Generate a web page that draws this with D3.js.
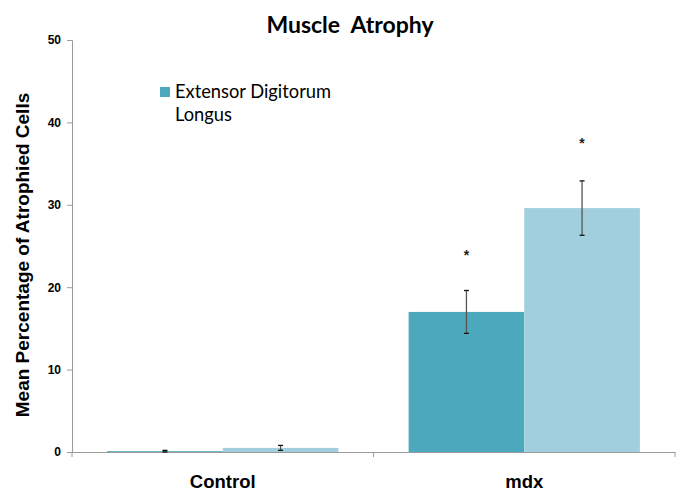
<!DOCTYPE html>
<html><head><meta charset="utf-8">
<script src="https://cdn.jsdelivr.net/npm/d3@7"></script>
<style>body{margin:0;background:#fff}</style>
</head><body>
<svg id="c" width="678" height="491"></svg>
<script>
const categories = ["Control", "mdx"];
const seriesNames = ["Extensor Digitorum Longus", "Series 2"];
const seriesDark = [0.1, 17.0];
const seriesLight = [0.5, 29.6];
const errDark = [0.1, 2.6];
const errLight = [0.3, 3.3];
const starDark = [null, 23.3];
const starLight = [null, 36.9];
const yTicks = [0, 10, 20, 30, 40, 50];
const colors = ["#4BA8BD", "#A2CFDD"];

const svg = d3.select("#c");
const m = {l: 72, r: 3, t: 40, b: 39};
const W = 678, H = 491;
const x = d3.scaleBand().domain(categories).range([m.l, W - m.r]).paddingInner(0.233).paddingOuter(0.1165);
const x0 = d3.scaleBand().domain(categories).range([m.l, W - m.r]);
const y = d3.scaleLinear().domain([0, 50]).range([H - m.b, m.t]);
const xs = d3.scaleBand().domain([0, 1]).range([0, x.bandwidth()]);

const data = categories.map((c, i) => [
  {c, s: 0, v: seriesDark[i], e: errDark[i], star: starDark[i]},
  {c, s: 1, v: seriesLight[i], e: errLight[i], star: starLight[i]}
]).flat();

// bars
svg.selectAll("rect.bar").data(data).join("rect").attr("class", "bar")
  .attr("x", d => x(d.c) + xs(d.s)).attr("width", xs.bandwidth())
  .attr("y", d => y(d.v)).attr("height", d => y(0) - y(d.v))
  .attr("fill", d => colors[d.s]);

// y axis
const ya = svg.append("g").attr("transform", `translate(${m.l},0)`)
  .call(d3.axisLeft(y).tickValues(yTicks).tickSize(5).tickPadding(6));
ya.select(".domain").attr("stroke", "#9a9a9a");
ya.selectAll(".tick line").attr("stroke", "#9a9a9a");
ya.selectAll("text").attr("font-family", "Liberation Sans, Arial, sans-serif")
  .attr("font-weight", "bold").attr("font-size", 12).attr("fill", "#000");

// x axis
const xa = svg.append("g").attr("transform", `translate(0,${y(0)})`)
  .call(d3.axisBottom(x0).tickSize(0).tickFormat(""));
xa.select(".domain").attr("stroke", "#9a9a9a");
xa.selectAll(".tick").remove();
const bounds = [m.l, x0(categories[1]), W - m.r];
xa.selectAll("line.sep").data(bounds).join("line").attr("class", "sep")
  .attr("x1", d => d).attr("x2", d => d).attr("y1", 0).attr("y2", 5).attr("stroke", "#9a9a9a");
svg.selectAll("text.cat").data(categories).join("text").attr("class", "cat")
  .attr("x", d => x(d) + x.bandwidth() / 2).attr("y", 488)
  .attr("text-anchor", "middle").attr("font-family", "Liberation Sans, Arial, sans-serif")
  .attr("font-weight", "bold").attr("font-size", 18.5).text(d => d);

// error bars
const eb = svg.selectAll("g.err").data(data).join("g").attr("class", "err")
  .attr("transform", d => `translate(${x(d.c) + xs(d.s) + xs.bandwidth() / 2},0)`);
eb.append("line").attr("y1", d => y(d.v + d.e)).attr("y2", d => y(d.v - d.e))
  .attr("stroke", "#555").attr("stroke-width", 1.3);
eb.append("line").attr("x1", -2.5).attr("x2", 2.5).attr("y1", d => y(d.v + d.e)).attr("y2", d => y(d.v + d.e)).attr("stroke", "#111").attr("stroke-width", 1.3);
eb.append("line").attr("x1", -2.5).attr("x2", 2.5).attr("y1", d => y(d.v - d.e)).attr("y2", d => y(d.v - d.e)).attr("stroke", "#111").attr("stroke-width", 1.3);

// stars
svg.selectAll("text.star").data(data.filter(d => d.star != null)).join("text").attr("class", "star")
  .attr("x", d => x(d.c) + xs(d.s) + xs.bandwidth() / 2)
  .attr("y", d => y(d.star))
  .attr("text-anchor", "middle").attr("font-family", "Liberation Sans, Arial, sans-serif")
  .attr("font-weight", "bold").attr("font-size", 14).attr("fill", "#222").text("*");

// title
svg.append("text").attr("x", 350).attr("y", 33).attr("text-anchor", "middle")
  .attr("font-family", "Lato, sans-serif").attr("font-weight", "bold").attr("font-size", 23)
  .attr("xml:space", "preserve").text("Muscle  Atrophy");

// y label
svg.append("text").attr("transform", `translate(29,${(y(0) + y(50)) / 2 + 9}) rotate(-90)`)
  .attr("text-anchor", "middle").attr("font-family", "Liberation Sans, Arial, sans-serif")
  .attr("font-weight", "bold").attr("font-size", 19).text("Mean Percentage of Atrophied Cells");

// legend
const lg = svg.append("g").attr("transform", "translate(160,87)");
lg.append("rect").attr("width", 10).attr("height", 10).attr("fill", colors[0]);
lg.append("text").attr("x", 15).attr("y", 11).attr("font-family", "Lato, sans-serif").attr("font-size", 18.3).text("Extensor Digitorum");
lg.append("text").attr("x", 15).attr("y", 34).attr("font-family", "Lato, sans-serif").attr("font-size", 18.3).text("Longus");
</script>
</body></html>
